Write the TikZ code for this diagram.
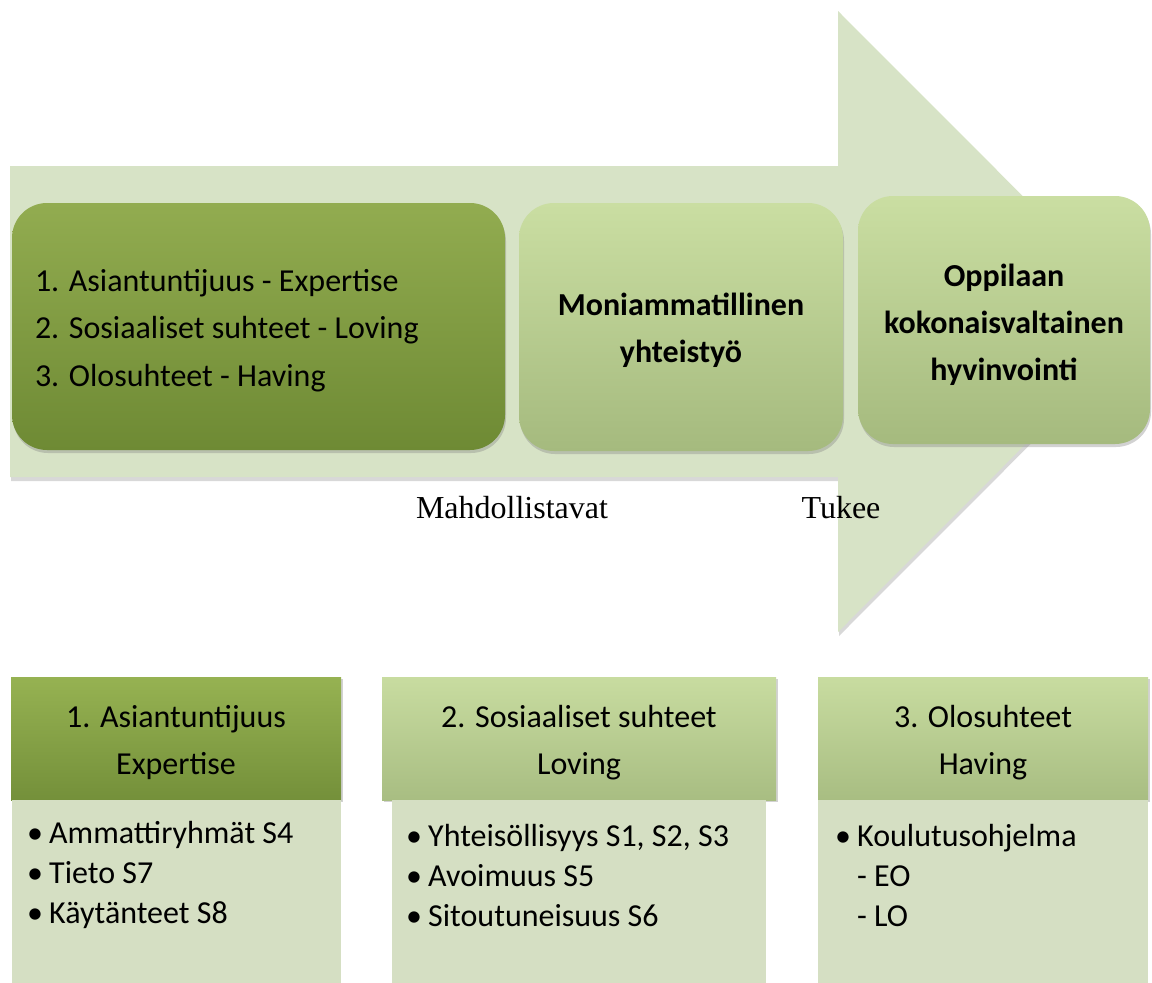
\documentclass[tikz,border=0pt]{standalone}
\usepackage{fontspec}
\setmainfont{Carlito}
\newfontfamily\timesfont{Liberation Serif}
\usetikzlibrary{shadows}
\definecolor{arrowgreen}{RGB}{215,227,198}
\definecolor{darktop}{RGB}{146,172,80}
\definecolor{darkbot}{RGB}{110,138,52}
\definecolor{lighttop}{RGB}{202,222,162}
\definecolor{lightbot}{RGB}{165,186,126}
\definecolor{headdarktop}{RGB}{150,178,82}
\definecolor{headdarkbot}{RGB}{116,144,58}
\definecolor{headlighttop}{RGB}{200,220,160}
\definecolor{headlightbot}{RGB}{168,189,130}
\definecolor{bodygreen}{RGB}{213,223,195}
\tikzset{
  bigbox/.style={rounded corners=35pt, inner sep=0pt,
    drop shadow={opacity=0.35, shadow xshift=1pt, shadow yshift=-3pt}},
  darkfill/.style={top color=darktop, bottom color=darkbot},
  lightfill/.style={top color=lighttop, bottom color=lightbot},
  boxtext/.style={font=\fontsize{32}{47.5}\selectfont, align=left, inner sep=0pt},
  boldtext/.style={font=\fontsize{32}{47}\selectfont\bfseries, align=center, inner sep=0pt},
  headbox/.style={inner sep=0pt, minimum height=123pt,
    drop shadow={opacity=0.35, shadow xshift=2pt, shadow yshift=-2pt}},
  headtext/.style={font=\fontsize{32}{47}\selectfont, align=center, inner sep=0pt},
  bodybox/.style={fill=bodygreen, inner sep=0pt, minimum height=183pt, anchor=north},
  listtext/.style={font=\fontsize{32}{40}\selectfont, align=left, inner sep=0pt, anchor=west},
  steptext/.style={font=\timesfont\fontsize{32}{38}\selectfont, inner sep=0pt}
}
\newcommand{\bul}{\makebox[22pt][l]{•}}
\begin{document}
\begin{tikzpicture}[x=1pt,y=-1pt]
  \useasboundingbox[fill=white] (0,0) rectangle (1152,983);
  %% big arrow
  \fill[arrowgreen, drop shadow={opacity=0.3, shadow xshift=1pt, shadow yshift=-4pt}]
    (10,166) -- (838,166) -- (838,11) -- (1148,321.5)
    -- (838,632) -- (838,477) -- (10,477) -- cycle;
  %% boxes on the arrow
  \node[bigbox, darkfill, minimum width=493pt, minimum height=247pt] (expert) at (258.5,326.5) {};
  \node[bigbox, lightfill, minimum width=324pt, minimum height=248pt] (multi) at (681,327) {};
  \node[bigbox, lightfill, minimum width=292pt, minimum height=248pt] (wellbeing) at (1004,320) {};
  %% box texts
  \node[boxtext, anchor=west] (experttext) at ([xshift=23pt,yshift=-4pt]expert.west)
    {1. Asiantuntijuus - Expertise\\2. Sosiaaliset suhteet - Loving\\3. Olosuhteet - Having};
  \node[boldtext] (multitext) at ([yshift=-3pt]multi.center) {Moniammatillinen\\yhteistyö};
  \node[boldtext] (welltext) at ([yshift=-5pt]wellbeing.center) {Oppilaan\\kokonaisvaltainen\\hyvinvointi};
  %% labels under the arrow
  \node[steptext] (enable) at (512,508) {Mahdollistavat};
  \node[steptext] (support) at (841,508) {Tukee};
  %% lower table: headers
  \node[headbox, top color=headdarktop, bottom color=headdarkbot, minimum width=330pt] (headA) at (176,738.5) {};
  \node[headbox, top color=headlighttop, bottom color=headlightbot, minimum width=394pt] (headB) at (579,738.5) {};
  \node[headbox, top color=headlighttop, bottom color=headlightbot, minimum width=330pt] (headC) at (983,738.5) {};
  \node[headtext] at ([yshift=-4pt]headA.center) {1. Asiantuntijuus\\Expertise};
  \node[headtext] at ([yshift=-4pt]headB.center) {2. Sosiaaliset suhteet\\Loving};
  \node[headtext] at ([yshift=-4pt]headC.center) {3. Olosuhteet\\Having};
  %% lower table: bodies
  \node[bodybox, minimum width=329pt] (bodyA) at (176.5,800) {};
  \node[bodybox, minimum width=374pt] (bodyB) at (579,800) {};
  \node[bodybox, minimum width=330pt] (bodyC) at (983,800) {};
  \node[listtext] (listA) at (27,875) {\bul Ammattiryhmät S4\\\bul Tieto S7\\\bul Käytänteet S8};
  \node[listtext] (listB) at (406,875) {\bul Yhteisöllisyys S1, S2, S3\\\bul Avoimuus S5\\\bul Sitoutuneisuus S6};
  \node[listtext] (listC) at (835,875) {\bul Koulutusohjelma\\\hspace{22pt}- EO\\\hspace{22pt}- LO};
\end{tikzpicture}
\end{document}
